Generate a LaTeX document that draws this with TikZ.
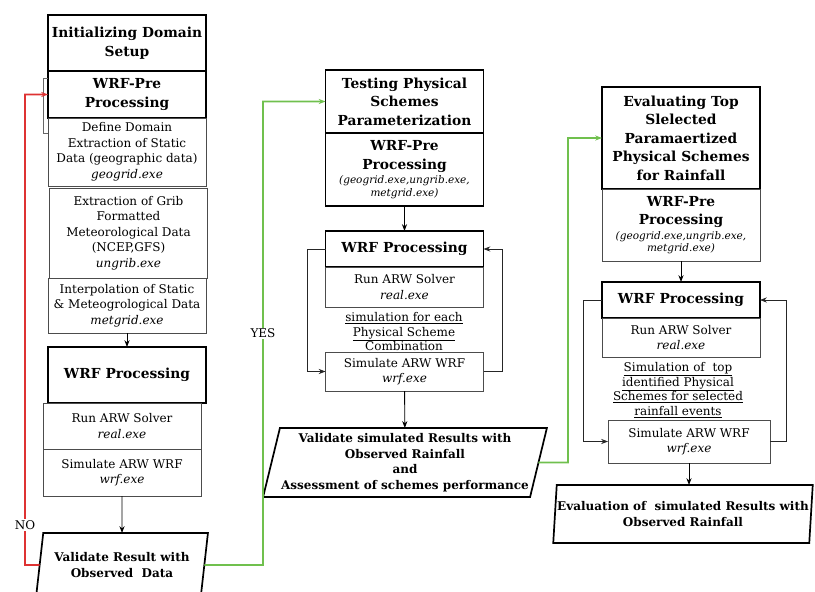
\documentclass[tikz,border=0pt]{standalone}
\usepackage{fontspec}
\setmainfont{DejaVu Serif}
\usetikzlibrary{arrows.meta,positioning,shapes.geometric}
\definecolor{nored}{RGB}{222,50,50}
\definecolor{yesgreen}{RGB}{112,192,78}
\newcommand{\headfont}{\fontsize{13.8}{18.5}\selectfont\bfseries}
\newcommand{\bodyfont}{\fontsize{12}{15.5}\selectfont}
\newcommand{\parafont}{\fontsize{12}{15.5}\selectfont\bfseries}
\newcommand{\exefont}{\fontsize{10.5}{13}\selectfont\mdseries\itshape}

\begin{document}
\begin{tikzpicture}[
  x=1pt, y=-1pt,
  node distance=0pt,
  cell/.style={rectangle,draw=black!70,line width=0.7pt,align=center,
    minimum width=158pt,inner sep=1pt,outer sep=0pt,font=\bodyfont},
  head/.style={cell,draw=black,line width=1.7pt,font=\headfont},
  para/.style={trapezium,trapezium left angle=#1,trapezium right angle=180-#1,
    trapezium stretches=true,draw=black,line width=1.7pt,align=center,
    inner sep=0pt,outer sep=0pt,font=\parafont},
  note/.style={align=center,font=\fontsize{12}{14}\selectfont},
  arrow/.style={-{Stealth[length=2.4mm,width=1.8mm]},line width=0.9pt},
  loopline/.style={arrow,line width=0.7pt,draw=black!85},
  lbl/.style={fill=white,inner sep=1pt,font=\bodyfont}
]
\useasboundingbox (0,0) rectangle (815,592);

% left column: domain setup and first run
\node[head,minimum height=56pt,anchor=north] (init) at (127,15) {Initializing Domain\\Setup};
\node[head,minimum height=47pt,below=of init] (pre1) {WRF-Pre\\Processing};
\node[cell,minimum height=68pt,below=of pre1] (define) {Define Domain\\Extraction of Static\\Data (geographic data)\\\textit{geogrid.exe}};
\node[cell,minimum height=90pt,below=2pt of define,xshift=1.5pt] (grib) {Extraction of Grib\\Formatted\\Meteorological Data\\(NCEP,GFS)\\\textit{ungrib.exe}};
\node[cell,minimum height=55pt,below=of grib,xshift=-1.5pt] (interp) {Interpolation of Static\\\& Meteogrological Data\\\textit{metgrid.exe}};
\node[head,minimum height=56pt,anchor=north] (wrfp1) at (127,347) {WRF Processing};
\node[cell,minimum height=46pt,below=of wrfp1,xshift=-5pt] (run1) {Run ARW Solver\\\textit{real.exe}};
\node[cell,minimum height=47pt,below=of run1] (sim1) {Simulate ARW WRF\\\textit{wrf.exe}};
\node[para=76,minimum width=172pt,minimum height=64pt] (val1) at (122,565) {Validate Result with\\Observed~~Data};

\draw[draw=black!60,line width=0.6pt] (pre1.west |- 0,78) -- ++(-5,0) -- ++(0,55) -- ++(5,0);

\draw[arrow] (interp) -- (wrfp1);
\draw[arrow] (sim1) -- (val1);
\draw[arrow,draw=nored,line width=1.8pt] (val1.west) -- (25,565) |- node[lbl,pos=0.0425]{NO} (pre1.west);

% middle column: testing the schemes
\node[head,minimum height=63pt,anchor=north] (test) at (404.5,70) {Testing Physical\\Schemes\\Parameterization};
\node[head,minimum height=73pt,below=of test] (pre2) {WRF-Pre\\Processing\\[-4pt]{\exefont (geogrid.exe,ungrib.exe,}\\[-6pt]{\exefont metgrid.exe)}};
\node[head,minimum height=36pt,anchor=north] (wrfp2) at (404.5,231) {WRF Processing};
\node[cell,minimum height=40pt,below=of wrfp2] (run2) {Run ARW Solver\\\textit{real.exe}};
\node[note] (note2) at (404,332) {\underline{simulation for each}\\[0.5pt]\underline{Physical Scheme}\\[0.5pt]Combination};
\node[cell,minimum height=39pt,anchor=north] (sim2) at (404.5,352) {Simulate ARW WRF\\\textit{wrf.exe}};
\node[para=74,minimum width=284pt,minimum height=69pt] (val2) at (405,462.5) {Validate simulated Results with\\Observed Rainfall\\and\\Assessment of schemes performance};

\draw[arrow,draw=yesgreen,line width=1.8pt] (val1.east) -- (263,565) |- node[lbl,pos=0.25]{YES} (test.west);
\draw[arrow] (pre2) -- (wrfp2);
\draw[loopline] (wrfp2.west) -- (307,249) |- (sim2.west);
\draw[loopline] (sim2.east) -- (502,371.5) |- (wrfp2.east);
\draw[arrow] (sim2) -- (val2);

% right column: evaluating the selected schemes
\node[head,minimum height=102pt,anchor=north] (eval) at (681,87) {Evaluating Top\\Slelected\\Paramaertized\\Physical Schemes\\for Rainfall};
\node[cell,font=\headfont,minimum height=72pt,below=of eval] (pre3) {WRF-Pre\\Processing\\[-4pt]{\exefont (geogrid.exe,ungrib.exe,}\\[-6pt]{\exefont metgrid.exe)}};
\node[head,minimum height=36pt,anchor=north] (wrfp3) at (681,282) {WRF Processing};
\node[cell,minimum height=39pt,below=of wrfp3] (run3) {Run ARW Solver\\\textit{real.exe}};
\node[note] (note3) at (678,390) {\underline{Simulation of~~top}\\[0.5pt]\underline{identified Physical}\\[0.5pt]\underline{Schemes for selected}\\[0.5pt]\underline{rainfall events}};
\node[cell,minimum width=162pt,minimum height=43pt,anchor=north] (sim3) at (689,420) {Simulate ARW WRF\\\textit{wrf.exe}};
\node[para=82,minimum width=260pt,minimum height=58pt] (val3) at (683,514) {Evaluation of~~simulated Results with\\Observed Rainfall};

\draw[arrow,draw=yesgreen,line width=1.8pt] (val2.east) -- (568,462.5) |- (eval.west);
\draw[arrow] (pre3) -- (wrfp3);
\draw[loopline] (wrfp3.west) -- (583,300) |- (sim3.west);
\draw[loopline] (sim3.east) -- (786,441.5) |- (wrfp3.east);
\draw[arrow] (sim3.south) -- (sim3.south |- val3.north);
\end{tikzpicture}
\end{document}
